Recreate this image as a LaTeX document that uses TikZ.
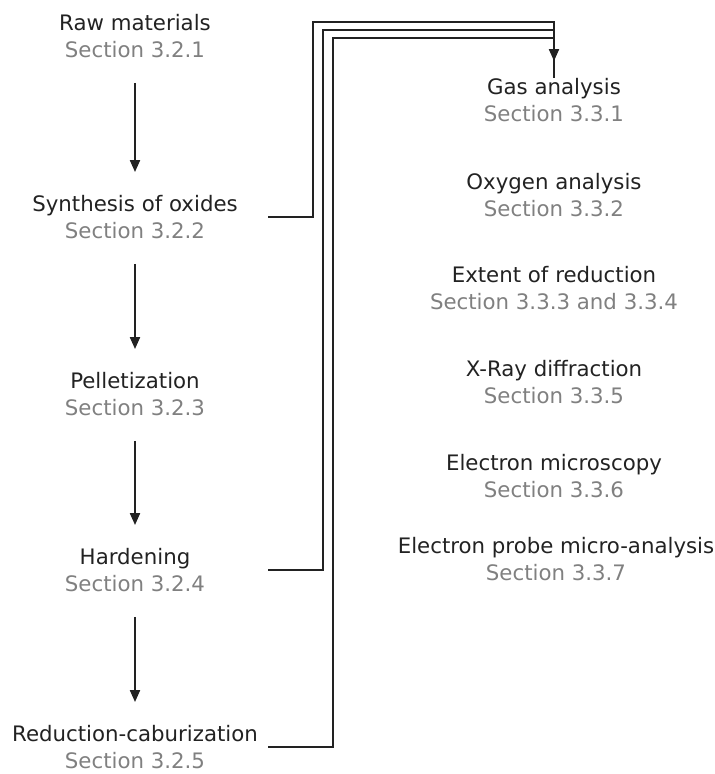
\documentclass[tikz,border=0pt]{standalone}
\usepackage{fontspec}
\setmainfont{DejaVu Sans}
\usetikzlibrary{arrows.meta}
\definecolor{ink}{HTML}{222222}
\definecolor{secgray}{HTML}{808080}
\newcommand{\stage}[2]{\textcolor{ink}{#1}\\\textcolor{secgray}{#2}}
\tikzset{
  stagebox/.style={align=center, inner sep=0pt, font=\fontsize{21.3}{27}\selectfont},
  flow/.style={ink, line width=2pt, -{Triangle[length=12pt,width=10pt]}, shorten <=25pt, shorten >=23pt},
  link/.style={ink, line width=2pt},
}
\begin{document}
\begin{tikzpicture}[x=1pt,y=-1pt]
\useasboundingbox (0,0) rectangle (715,774);
% preparation (left column)
\node[stagebox] (raw)    at (135,36)  {\stage{Raw materials}{Section 3.2.1}};
\node[stagebox] (synth)  at (135,217) {\stage{Synthesis of oxides}{Section 3.2.2}};
\node[stagebox] (pellet) at (135,394) {\stage{Pelletization}{Section 3.2.3}};
\node[stagebox] (harden) at (135,570) {\stage{Hardening}{Section 3.2.4}};
\node[stagebox] (reduc)  at (135,747) {\stage{Reduction-caburization}{Section 3.2.5}};
\draw[flow] (raw) -- (synth);
\draw[flow] (synth) -- (pellet);
\draw[flow] (pellet) -- (harden);
\draw[flow] (harden) -- (reduc);
% characterisation (right column)
\node[stagebox] (gas)    at (554,100)   {\stage{Gas analysis}{Section 3.3.1}};
\node[stagebox] (oxygen) at (554,195)   {\stage{Oxygen analysis}{Section 3.3.2}};
\node[stagebox] (extent) at (554,288.5) {\stage{Extent of reduction}{Section 3.3.3 and 3.3.4}};
\node[stagebox] (xray)   at (554,382.5) {\stage{X-Ray diffraction}{Section 3.3.5}};
\node[stagebox] (micro)  at (554,476.5) {\stage{Electron microscopy}{Section 3.3.6}};
\node[stagebox] (probe)  at (556,559)   {\stage{Electron probe micro-analysis}{Section 3.3.7}};
% samples to analysis
\coordinate (sx) at (268,0);
\coordinate (b1) at (313,22);
\coordinate (b2) at (323,30);
\coordinate (b3) at (333,38);
\draw[link] (synth -| sx) -| (b1) -| (gas.north);
\draw[link] (harden -| sx) -| (b2) -| (gas.north);
\draw[link, -{Triangle[length=12pt,width=10pt]}, shorten >=17pt] (reduc -| sx) -| (b3) -| (gas.north);
\end{tikzpicture}
\end{document}
